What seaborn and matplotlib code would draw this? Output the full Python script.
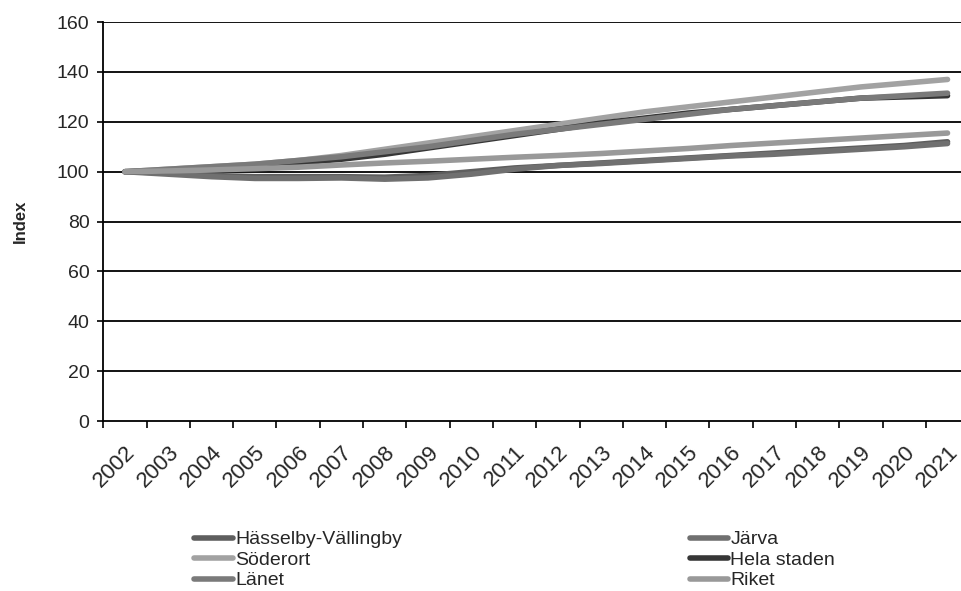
import numpy as np
import pandas as pd
import matplotlib
matplotlib.use("Agg")
import matplotlib.pyplot as plt
import matplotlib.transforms as mtransforms
import seaborn as sns

years = list(range(2002, 2022))

hasselby = [100, 99.5, 98.5, 98, 98, 98, 97.8, 98.5, 100, 101.5, 102.5, 103.5, 104.5, 105.5, 106.5, 107.5, 108.5, 109.5, 110.5, 112]
jarva = [100, 99, 98, 97.3, 97.3, 97.5, 97, 97.5, 99, 101, 102.5, 103.3, 104.3, 105.3, 106.3, 107, 108, 109, 110, 111.3]
soderort = [100, 101, 102, 103, 104.5, 106.5, 109, 111.5, 114, 116.5, 119, 121.5, 124, 126, 128, 130, 132, 134, 135.5, 137]
hela_staden = [100, 100.5, 101.5, 102.5, 103.5, 105, 107, 109.5, 112, 114.5, 117, 119.5, 121.5, 123.5, 125, 126.5, 128, 129.5, 130, 130.5]
lanet = [100, 101, 102, 103, 104.5, 106, 108, 110, 112.5, 115, 117, 119, 121, 123, 125, 126.5, 128, 129.5, 130.5, 131.5]
riket = [100, 100.3, 100.7, 101.2, 101.8, 102.7, 103.5, 104.2, 105, 105.8, 106.5, 107.3, 108.3, 109.3, 110.5, 111.5, 112.5, 113.5, 114.5, 115.5]

series_names = ["Hässelby-Vällingby", "Järva", "Söderort", "Hela staden", "Länet", "Riket"]
series_values = [hasselby, jarva, soderort, hela_staden, lanet, riket]
colors = ["#5e5e5e", "#707070", "#a2a2a2", "#363636", "#7a7a7a", "#999999"]

df = pd.DataFrame({name: vals for name, vals in zip(series_names, series_values)})
df["year"] = years
long_df = df.melt(id_vars="year", var_name="serie", value_name="index")

sns.set_style("white")
plt.rcParams["font.family"] = ["Liberation Sans", "DejaVu Sans"]

fig = plt.figure(figsize=(9.61, 5.91), dpi=100)
# axis runs a bit past the right edge, as in the original (cut off)
ax = fig.add_axes([0.1075, 0.2876, 0.901, 0.675])

for yv in range(20, 161, 20):
    ax.axhline(yv, color="black", lw=1.3, zorder=1)

sns.lineplot(data=long_df, x="year", y="index", hue="serie",
             hue_order=series_names, palette=colors, lw=4,
             legend=False, ax=ax, zorder=3)
for line in ax.get_lines()[-6:]:
    line.set_solid_capstyle("round")

ax.set_xlim(years[0] - 0.5, years[-1] + 0.5)
ax.set_ylim(0, 160)
ax.set_yticks(range(0, 161, 20))
ax.set_xticks(years)
ax.set_xticklabels([str(y) for y in years], rotation=45, ha="right",
                   va="top", rotation_mode="anchor", fontsize=16)
shift = mtransforms.ScaledTranslation(-0.05, 0, fig.dpi_scale_trans)
for lbl in ax.get_xticklabels():
    lbl.set_transform(lbl.get_transform() + shift)
ax.set_xticks(np.arange(years[0] - 0.5, years[-1] + 1.0, 1.0), minor=True)
ax.tick_params(axis="x", which="major", length=0, pad=15)
ax.tick_params(axis="x", which="minor", length=5, width=1.2, color="black", direction="out")
ax.tick_params(axis="y", length=4, width=1.2, color="black", labelsize=14, pad=6)
ax.yaxis.set_tick_params(left=True)
ax.xaxis.set_tick_params(which="minor", bottom=True)

ax.set_xlabel("")
ax.set_ylabel("Index", fontsize=12, fontweight="bold")
ax.yaxis.set_label_coords(-0.087, 0.5)

for side in ["top", "right"]:
    ax.spines[side].set_visible(False)
for side in ["left", "bottom"]:
    ax.spines[side].set_color("black")
    ax.spines[side].set_linewidth(1.3)

handles = [plt.Line2D([0], [0], color=c, lw=4) for c in colors]
order = [0, 2, 4, 1, 3, 5]
fig.legend([handles[i] for i in order], [series_names[i] for i in order],
           ncol=2, loc="upper left", bbox_to_anchor=(0.202, 0.102),
           frameon=False, fontsize=14, handlelength=2.0, handletextpad=0.1,
           columnspacing=14.8, labelspacing=0.15, borderaxespad=0, borderpad=0)

fig.savefig("out.png", dpi=100)
